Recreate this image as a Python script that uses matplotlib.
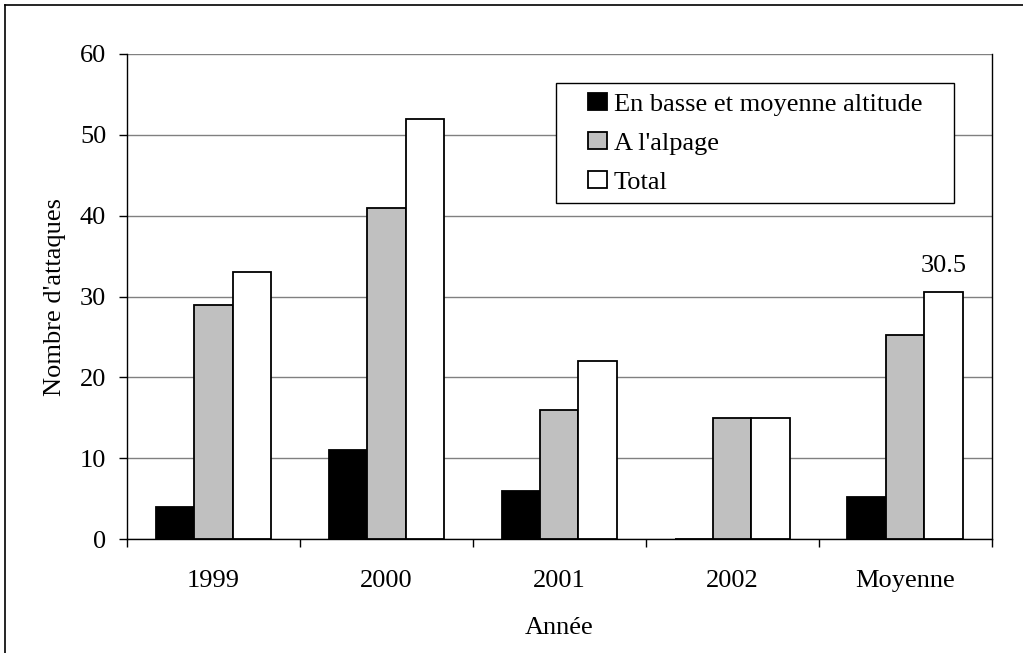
import numpy as np
from matplotlib import pyplot as plt
from matplotlib.lines import Line2D
from matplotlib.patches import Rectangle

categories = ['1999', '2000', '2001', '2002', 'Moyenne']
basse = [4, 11, 6, 0, 5.25]
alpage = [29, 41, 16, 15, 25.25]
total = [33, 52, 22, 15, 30.5]

plt.rcParams['font.family'] = ['Liberation Serif', 'DejaVu Serif']
fs = 19

W, H = 1023, 653
fig = plt.figure(figsize=(W / 100, H / 100), dpi=100)
ax = fig.add_axes([127 / W, 114 / H, 864.5 / W, 485 / H])

x = np.arange(len(categories))
w = 1 / 4.5
kw = dict(width=w, edgecolor='black', linewidth=1.3, zorder=3)
ax.bar(x - w, basse, color='black', label='En basse et moyenne altitude', **kw)
ax.bar(x, alpage, color='#C0C0C0', label="A l'alpage", **kw)
ax.bar(x + w, total, color='white', label='Total', **kw)

ax.annotate('30.5', (x[-1] + w, total[-1]), xytext=(0, 11), textcoords='offset points',
            ha='center', va='bottom', fontsize=fs)

ax.set_xlim(-0.5, len(categories) - 0.5)
ax.set_ylim(0, 60)
ax.set_yticks(range(0, 61, 10))
ax.yaxis.grid(True, color='#808080', linewidth=1.0, zorder=0)
ax.set_axisbelow(True)

ax.set_xticks(np.arange(-0.5, len(categories), 1))
ax.set_xticklabels([])
ax.set_xticks(x, minor=True)
ax.set_xticklabels(categories, minor=True)
ax.tick_params(axis='x', which='major', direction='out', length=6, width=1)
ax.tick_params(axis='x', which='minor', length=0, pad=22, labelsize=fs)
ax.tick_params(axis='y', direction='out', length=6, width=1, pad=9, labelsize=fs)

for s in ['left', 'bottom', 'right']:
    ax.spines[s].set_color('black')
    ax.spines[s].set_linewidth(1.0)
ax.spines['top'].set_visible(False)

ax.set_ylabel("Nombre d'attaques", fontsize=fs, labelpad=10)
ax.set_xlabel('Année', fontsize=fs, labelpad=18)

# legend frame drawn separately (wider side padding than matplotlib allows)
ax.add_patch(Rectangle((556 / W, 1 - 203 / H), 398 / W, 120 / H, transform=fig.transFigure,
                       facecolor='white', edgecolor='black', linewidth=1.0, zorder=4,
                       clip_on=False))
leg = ax.legend(loc='upper left', bbox_to_anchor=(588 / W, 1 - 93 / H),
                bbox_transform=fig.transFigure, fontsize=fs, frameon=False,
                handlelength=0.72, handleheight=0.62, handletextpad=0.25,
                labelspacing=0.62, borderpad=0, borderaxespad=0)
leg.set_zorder(5)

# outer frame of the chart
fig.add_artist(Line2D([5 / W, 5 / W], [0, 1 - 5 / H], color='black', linewidth=1.2))
fig.add_artist(Line2D([5 / W, 1], [1 - 5 / H, 1 - 5 / H], color='black', linewidth=1.2))

fig.savefig('out.png', dpi=100)
